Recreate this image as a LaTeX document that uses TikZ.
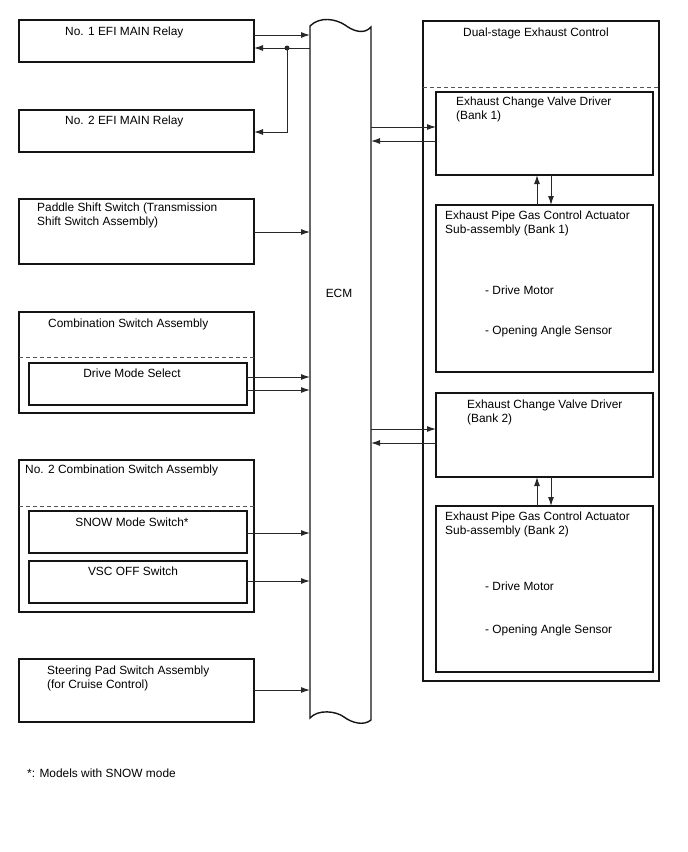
\documentclass[tikz,border=0pt]{standalone}
\usepackage{fontspec}
\setmainfont{Liberation Sans}
\usetikzlibrary{arrows.meta}
\definecolor{boxline}{RGB}{20,20,20}
\definecolor{wire}{RGB}{40,40,40}
\definecolor{dashgray}{RGB}{85,85,85}
\tikzset{
  % Component box
  block/.style={
    rectangle, draw=boxline, line width=1.4pt,
    anchor=north west, inner sep=0pt, outer sep=0pt
  },
  % Invisible frame round the ECM
  ecmframe/.style={
    rectangle, anchor=north west, inner sep=0pt, outer sep=0pt
  },
  % Text in a box (placed at the baseline of its last line)
  lbl/.style={
    font=\fontsize{11.9pt}{14pt}\selectfont, text=black,
    inner sep=0pt, anchor=base west, align=left
  },
  % Centred text
  clbl/.style={lbl, anchor=base, align=center},
  % Signal arrow
  arr/.style={
    -{Latex[length=9pt,width=6pt]}, color=wire, line width=1pt
  },
  % Dashed divider
  divider/.style={
    dash pattern=on 4pt off 3pt, color=dashgray, line width=0.9pt
  },
}
\begin{document}
\begin{tikzpicture}[x=1pt, y=-1pt]
  \useasboundingbox (0,0) rectangle (688,852);

  % Inputs on the left
  \node[block, minimum width=235pt, minimum height=42pt]  (relayA) at (19,20) {};
  \node[block, minimum width=235pt, minimum height=42pt]  (relayB) at (19,110) {};
  \node[block, minimum width=235pt, minimum height=65pt]  (paddle) at (19,199) {};
  \node[block, minimum width=235pt, minimum height=101pt] (combo)  at (19,312) {};
  \node[block, minimum width=218pt, minimum height=42pt]  (drvsel) at (29,363) {};
  \node[block, minimum width=235pt, minimum height=152pt] (comboB) at (19,460) {};
  \node[block, minimum width=218pt, minimum height=42pt]  (snow)   at (29,511) {};
  \node[block, minimum width=218pt, minimum height=42pt]  (vscoff) at (29,561) {};
  \node[block, minimum width=235pt, minimum height=63pt]  (steer)  at (19,659) {};

  \draw[divider] (combo.west |- 0,357) -- (combo.east |- 0,357);
  \draw[divider] (comboB.west |- 0,506) -- (comboB.east |- 0,506);

  \node[lbl] (t-relayA) at (65,35.5) {No. 1 EFI MAIN Relay};
  \node[lbl] (t-relayB) at (65,124) {No. 2 EFI MAIN Relay};
  \node[lbl] (t-paddle) at (37,225) {Paddle Shift Switch (Transmission\\Shift Switch Assembly)};
  \node[lbl] (t-combo)  at (48,327.5) {Combination Switch Assembly};
  \node[clbl] (t-drvsel) at (132,377) {Drive Mode Select};
  \node[lbl] (t-comboB) at (25,473) {No. 2 Combination Switch Assembly};
  \node[clbl] (t-snow)   at (132,526) {SNOW Mode Switch*};
  \node[clbl] (t-vscoff) at (133,575) {VSC OFF Switch};
  \node[lbl] (t-steer)  at (47,688) {Steering Pad Switch Assembly\\(for Cruise Control)};
  \node[lbl] (t-note)   at (27,777) {*: Models with SNOW mode};

  % ECM
  \node[ecmframe, minimum width=61pt, minimum height=694pt] (ecm) at (310,26) {};
  \draw[draw=boxline, line width=1.4pt]
    (ecm.north west) .. controls (320,16) and (336,19) .. (345,25)
    .. controls (353,31) and (364,35) .. (371,27) -- (371,720)
    .. controls (364,726) and (352,723) .. (344,717)
    .. controls (336,711) and (318,709) .. (310,718) -- cycle;
  \node[clbl] (t-ecm) at (339,297) {ECM};

  % Dual-stage exhaust control on the right
  \node[block, minimum width=236pt, minimum height=660pt] (dual) at (423,21) {};
  \draw[divider] (dual.west |- 0,87) -- (dual.east |- 0,87);
  \node[block, minimum width=217pt, minimum height=83pt]  (drvA) at (436,92) {};
  \node[block, minimum width=217pt, minimum height=167pt] (actA) at (436,205) {};
  \node[block, minimum width=217pt, minimum height=84pt]  (drvB) at (436,393) {};
  \node[block, minimum width=217pt, minimum height=166pt] (actB) at (436,506) {};

  \node[lbl] (t-dual)  at (463,36) {Dual-stage Exhaust Control};
  \node[lbl] (t-drvA)  at (456,119) {Exhaust Change Valve Driver\\(Bank 1)};
  \node[lbl] (t-actA)  at (445,233) {Exhaust Pipe Gas Control Actuator\\Sub-assembly (Bank 1)};
  \node[lbl] (t-motA)  at (485,294.5) {- Drive Motor};
  \node[lbl] (t-angA)  at (485,334) {- Opening Angle Sensor};
  \node[lbl] (t-drvB)  at (467,422) {Exhaust Change Valve Driver\\(Bank 2)};
  \node[lbl] (t-actB)  at (445,534) {Exhaust Pipe Gas Control Actuator\\Sub-assembly (Bank 2)};
  \node[lbl] (t-motB)  at (485,590) {- Drive Motor};
  \node[lbl] (t-angB)  at (485,633) {- Opening Angle Sensor};

  % Signals into the ECM
  \draw[arr] (relayA.east |- 0,35) -- (ecm.west |- 0,35);
  \draw[arr] (ecm.west |- 0,48) -- (relayA.east |- 0,48);
  \coordinate (split) at (287,48);
  \fill[wire] (split) circle (2.5pt);
  \draw[arr] (split) |- (relayB.east |- 0,132);
  \draw[arr] (paddle.east |- 0,232) -- (ecm.west |- 0,232);
  \draw[arr] (drvsel.east |- 0,377) -- (ecm.west |- 0,377);
  \draw[arr] (drvsel.east |- 0,390) -- (ecm.west |- 0,390);
  \draw[arr] (snow.east |- 0,533) -- (ecm.west |- 0,533);
  \draw[arr] (vscoff.east |- 0,581) -- (ecm.west |- 0,581);
  \draw[arr] (steer.east |- 0,690) -- (ecm.west |- 0,690);

  % ECM and valve drivers
  \draw[arr] (ecm.east |- 0,127) -- (drvA.west |- 0,127);
  \draw[arr] (drvA.west |- 0,141) -- (ecm.east |- 0,141);
  \draw[arr] (ecm.east |- 0,429) -- (drvB.west |- 0,429);
  \draw[arr] (drvB.west |- 0,443) -- (ecm.east |- 0,443);

  % Drivers and actuators
  \draw[arr] (actA.north -| 537,0) -- (drvA.south -| 537,0);
  \draw[arr] (drvA.south -| 551,0) -- (actA.north -| 551,0);
  \draw[arr] (actB.north -| 537,0) -- (drvB.south -| 537,0);
  \draw[arr] (drvB.south -| 551,0) -- (actB.north -| 551,0);
\end{tikzpicture}
\end{document}
